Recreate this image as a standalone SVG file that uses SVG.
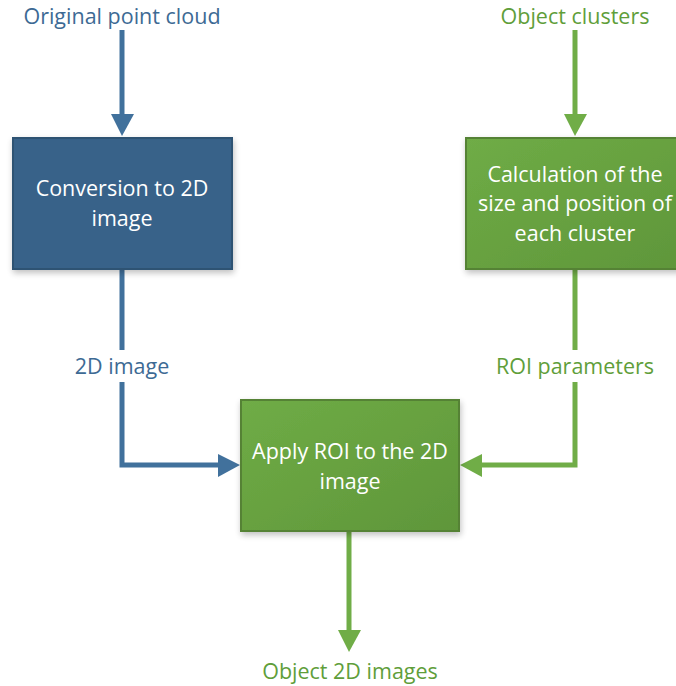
<svg xmlns="http://www.w3.org/2000/svg" width="676" height="686" viewBox="0 0 676 686">
  <style>
    .lbl { font-family: "Open Sans", "Liberation Sans", sans-serif; font-size: 21.5px; text-anchor: middle; }
    .blue-t { fill: #3d6a94; }
    .green-t { fill: #5f9e3a; }
    .box-t { font-family: "Open Sans", "Liberation Sans", sans-serif; font-size: 21.5px; text-anchor: middle; fill: #ffffff; }
    .blue-l { stroke: #41719c; stroke-width: 5; fill: none; }
    .green-l { stroke: #70ad47; stroke-width: 5; fill: none; }
  </style>
  <defs>
    <linearGradient id="gfill" x1="0" y1="0" x2="1" y2="1">
      <stop offset="0" stop-color="#6fac46"/>
      <stop offset="1" stop-color="#5f963a"/>
    </linearGradient>
    <filter id="shadow" x="-10%" y="-10%" width="125%" height="125%">
      <feGaussianBlur in="SourceAlpha" stdDeviation="3"/>
      <feOffset dx="1" dy="3" result="b"/>
      <feComponentTransfer><feFuncA type="linear" slope="0.25"/></feComponentTransfer>
      <feMerge><feMergeNode/><feMergeNode in="SourceGraphic"/></feMerge>
    </filter>
  </defs>
  <rect width="676" height="686" fill="#ffffff"/>

  <!-- connectors -->
  <g id="connectors">
    <line class="blue-l" x1="122" y1="30" x2="122" y2="116"/>
    <polygon fill="#41719c" points="111,114 134,114 122,136"/>

    <line class="green-l" x1="575" y1="30" x2="575" y2="116"/>
    <polygon fill="#70ad47" points="564,114 587,114 575,136"/>

    <polyline class="blue-l" points="122,269 122,465 220,465"/>
    <polygon fill="#41719c" points="218,454 218,477 240,465"/>

    <polyline class="green-l" points="575,269 575,465 480,465"/>
    <polygon fill="#70ad47" points="482,454 482,477 460,465"/>

    <line class="green-l" x1="349" y1="531" x2="349" y2="632"/>
    <polygon fill="#70ad47" points="338,630 361,630 349,652"/>

    <!-- label backgrounds interrupting the lines -->
    <rect x="60" y="350" width="124" height="32" fill="#ffffff"/>
    <rect x="486" y="350" width="180" height="32" fill="#ffffff"/>
    <text class="lbl blue-t" x="122" y="374">2D image</text>
    <text class="lbl green-t" x="575" y="374">ROI parameters</text>
  </g>

  <g id="src-cloud">
    <text class="lbl blue-t" x="122" y="24">Original point cloud</text>
  </g>
  <g id="src-clusters">
    <text class="lbl green-t" x="575" y="24">Object clusters</text>
  </g>

  <g id="conversion">
    <rect x="13" y="138" width="219" height="131" fill="#376289" stroke="#2f5273" stroke-width="2" filter="url(#shadow)"/>
    <text class="box-t" x="122" y="196">Conversion to 2D</text>
    <text class="box-t" x="122" y="226">image</text>
  </g>

  <g id="calculation">
    <rect x="466" y="138" width="219" height="131" fill="url(#gfill)" stroke="#548235" stroke-width="2" filter="url(#shadow)"/>
    <text class="box-t" x="575" y="182">Calculation of the</text>
    <text class="box-t" x="575" y="211">size and position of</text>
    <text class="box-t" x="575" y="241">each cluster</text>
  </g>

  <g id="apply-roi">
    <rect x="241" y="400" width="218" height="131" fill="url(#gfill)" stroke="#548235" stroke-width="2" filter="url(#shadow)"/>
    <text class="box-t" x="350" y="459">Apply ROI to the 2D</text>
    <text class="box-t" x="350" y="489">image</text>
  </g>

  <g id="result">
    <text class="lbl green-t" x="350" y="679">Object 2D images</text>
  </g>
</svg>
